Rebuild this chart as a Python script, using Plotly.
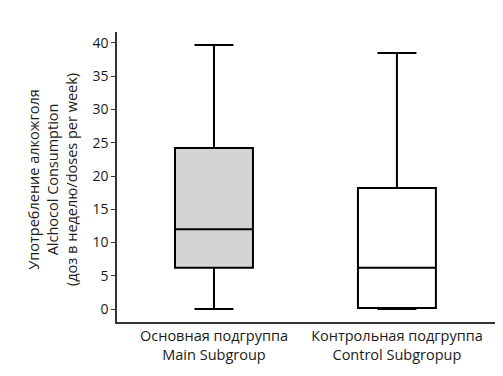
import plotly.graph_objects as go

categories = ["Основная подгруппа<br>Main Subgroup", "Контрольная подгруппа<br>Control Subgropup"]
lower = [0.0, 0.0]
q1 = [6.2, 0.15]
median = [12.0, 6.2]
q3 = [24.2, 18.2]
upper = [39.7, 38.5]
fills = ["#d3d4d3", "#ffffff"]
y_ticks = [0, 5, 10, 15, 20, 25, 30, 35, 40]

fig = go.Figure()
for i in range(2):
    fig.add_trace(go.Box(
        x=[i], q1=[q1[i]], median=[median[i]], q3=[q3[i]],
        lowerfence=[lower[i]], upperfence=[upper[i]],
        fillcolor=fills[i], line=dict(color="black", width=2),
        width=0.426, whiskerwidth=0.5, boxpoints=False, showlegend=False,
        hoverinfo="skip",
    ))

font = "Open Sans"
fig.update_layout(
    width=503, height=376,
    margin=dict(l=117, r=8, t=32, b=54),
    plot_bgcolor="white", paper_bgcolor="white",
    font=dict(family=font, size=14.5, color="#1a1a1a"),
    boxmode="overlay",
    xaxis=dict(
        range=[-0.53, 1.536], tickmode="array", tickvals=[0, 1], ticktext=categories,
        showline=True, linecolor="#333333", linewidth=1.5, ticks="", showgrid=False,
        zeroline=False, tickfont=dict(size=14.5, family=font),
    ),
    yaxis=dict(
        range=[-1.95, 41.65], tickmode="array", tickvals=y_ticks,
        showline=True, linecolor="#333333", linewidth=1.5, ticks="outside", ticklen=4,
        tickcolor="#333333", showgrid=False, zeroline=False,
        tickfont=dict(size=14, family=font),
    ),
    annotations=[dict(
        text="Употребление алкожголя<br>Alchocol Consumption<br>(доз в неделю/doses per week)",
        xref="paper", yref="paper", x=(52 - 117) / 378, y=(322 - 180) / 290,
        xanchor="center", yanchor="middle", textangle=-90, showarrow=False,
        font=dict(size=14.5, family=font, color="#1a1a1a"),
    )],
)

fig.write_html("out.html", config={"displayModeBar": False},
               post_script="document.body.style.margin='0';")
